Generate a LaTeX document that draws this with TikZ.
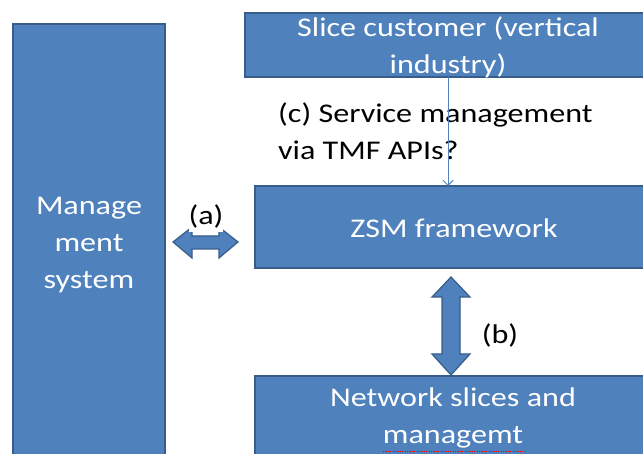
\documentclass[tikz,border=0pt]{standalone}
\usepackage{fontspec}
\setmainfont{Carlito}
\usetikzlibrary{arrows.meta}
\definecolor{boxfill}{HTML}{4F81BD}
\definecolor{boxline}{HTML}{385D8A}
\newcommand{\sq}[1]{\scalebox{1.19}[1]{#1}}
\begin{document}
\begin{tikzpicture}[x=1pt,y=-1pt,
  blk/.style={draw=boxline,fill=boxfill,line width=1.6pt},
  wtxt/.style={text=white,font=\fontsize{27}{37}\selectfont,align=center,inner sep=0pt},
  btxt/.style={text=black,font=\fontsize{27}{37}\selectfont,align=left,inner sep=0pt}]
\useasboundingbox (0,0) rectangle (643,454);
\clip (0,0) rectangle (643,454);
% boxes
\draw[blk] (13,24) rectangle (165,470);
\draw[blk] (245,13) rectangle (660,77);
\draw[blk] (255,186) rectangle (660,268);
\draw[blk] (255,376) rectangle (660,470);
% named anchors
\coordinate (cust) at (448,77);
\coordinate (zsmtop) at (448,186);
% texts
\node[wtxt] (mtext) at (89,245) {\sq{Manage}\\\sq{ment}\\\sq{system}};
\node[wtxt] (ctext) at (448,47) {\sq{Slice customer (vertical}\\\sq{industry)}};
\node[wtxt] (ztext) at (454,228) {\sq{ZSM framework}};
\node[wtxt] (ntext) at (453,418) {\sq{Network slices and}\\\sq{managemt}};
\node[btxt,anchor=west] (stext) at (278,131) {\sq{(c) Service management}\\\sq{via TMF APIs?}};
% red spell-check squiggle
\draw[red,line width=0.9pt,dash pattern=on 1.2pt off 1.2pt] (383,451) -- (526,451);
% thin arrow
\draw[boxfill,line width=0.9pt,-{Straight Barb[length=5pt,width=10pt]}] (cust) -- (zsmtop);
% horizontal block arrow (a)
\draw[blk,line width=1.2pt] (173,242) -- (192,227) -- (192,236) -- (219,236) -- (219,227)
  -- (238,242) -- (219,258) -- (219,249) -- (192,249) -- (192,258) -- cycle;
\node[btxt,fill=white,anchor=north,minimum height=31pt,inner xsep=0pt] (alab) at (206,201) {\sq{(a)}};
% vertical block arrow (b)
\draw[blk,line width=1.2pt] (451,277) -- (470,297) -- (460,297) -- (460,354) -- (470,354)
  -- (451,375) -- (432,354) -- (442,354) -- (442,297) -- (432,297) -- cycle;
\node[btxt] (blab) at (500,335) {\sq{(b)}};
\end{tikzpicture}
\end{document}
